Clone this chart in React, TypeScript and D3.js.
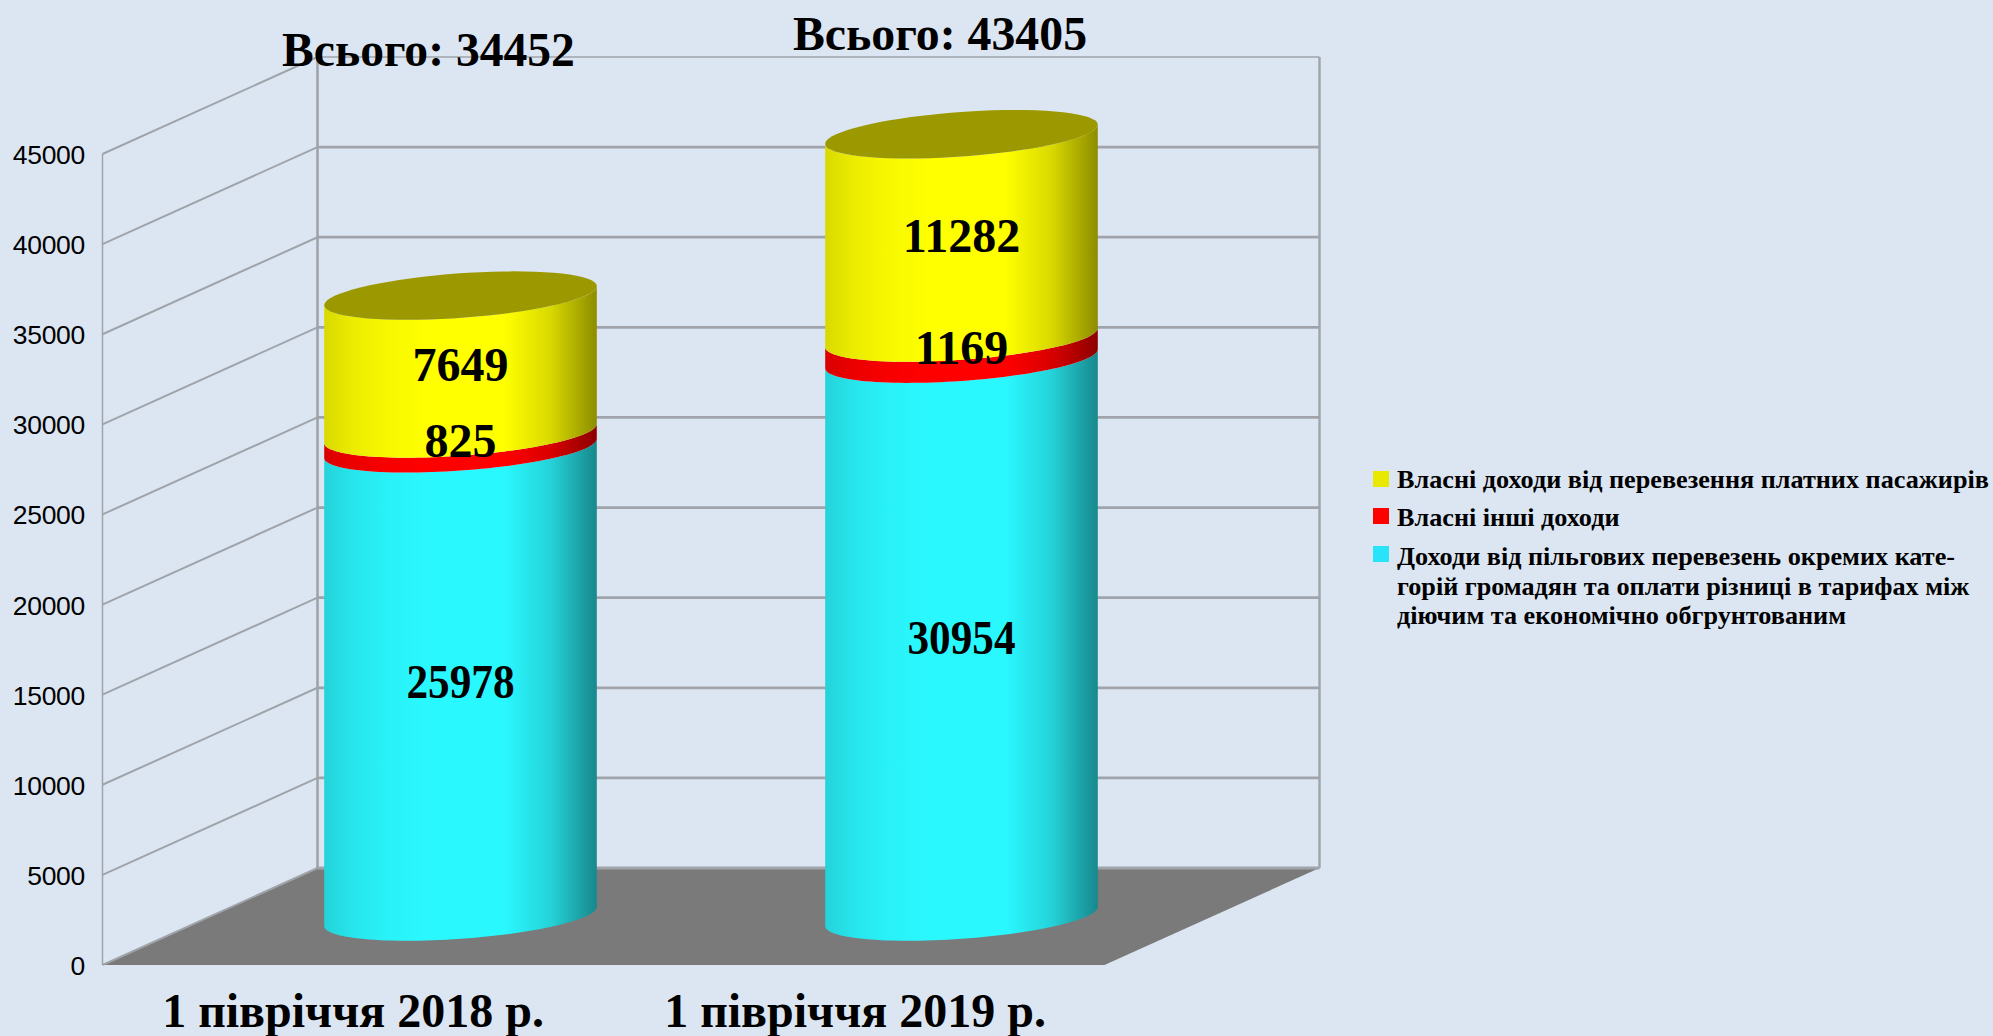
import * as d3 from 'd3';

const categories = ['1 півріччя 2018 р.', '1 півріччя 2019 р.'];
const seriesNames = ['Доходи від пільгових перевезень', 'Власні інші доходи', 'Власні доходи від перевезення платних пасажирів'];
const subsidised = [25978, 30954];
const otherIncome = [825, 1169];
const paidPassengers = [7649, 11282];
const totals = [34452, 43405];
const yTicks = [0, 5000, 10000, 15000, 20000, 25000, 30000, 35000, 40000, 45000];
const legendLines = [
  ['Власні доходи від перевезення платних пасажирів'],
  ['Власні інші доходи'],
  [
    'Доходи від пільгових перевезень окремих кате-',
    'горій громадян та оплати різниці в тарифах між',
    'діючим та економічно обгрунтованим',
  ],
];

const BG = '#dce6f2';
const GRID = '#a0a4aa';
const FLOOR = '#7a7a7a';
const SERIF = '"Liberation Serif", serif';
const SANS = '"Liberation Sans", sans-serif';

const sideColors = ['#2af8ff', '#ff0000', '#ffff00'];
const topColor = '#9c9900';
const legendColors = ['#e8e800', '#ff0000', '#29e3fb'];
const shadeStops: [number, number][] = [
  [0, 0.85],
  [0.1, 0.92],
  [0.22, 0.97],
  [0.38, 1],
  [0.66, 1],
  [0.83, 0.85],
  [1, 0.55],
];

const width = 1993;
const height = 1036;

// floor plane: front edge and how far the back wall is shifted
const depthX = 215;
const depthY = -97;
const x = d3.scaleBand<string>().domain(categories).range([102.5, 1104.5]);
const y = d3.scaleLinear().domain([0, 45000]).range([965, 154]);
const radiusX = x.bandwidth() / 4;
const radiusDepth = 0.25;

const shade = (color: string, k: number) => {
  const c = d3.rgb(color);
  return d3.rgb(c.r * k, c.g * k, c.b * k).formatHex();
};

const line = d3.line<[number, number]>();

// one rim of the cylinder, t in radians
const rimPoint = (cx: number, cy: number, t: number): [number, number] => [
  cx + radiusX * Math.cos(t) + radiusDepth * depthX * Math.sin(t),
  cy + radiusDepth * depthY * Math.sin(t),
];

// angle of the rightmost silhouette point
const tEdge = Math.atan2(radiusDepth * depthX, radiusX);

const frontArc = (cx: number, cy: number, reverse = false) => {
  const ts = d3.range(0, 61).map((i) => tEdge - (i / 60) * Math.PI);
  return (reverse ? ts.reverse() : ts).map((t) => rimPoint(cx, cy, t));
};

const sidePath = (cx: number, v0: number, v1: number) =>
  line([...frontArc(cx, y(v0) + depthY / 2), ...frontArc(cx, y(v1) + depthY / 2, true)]) + ' Z';

const topPath = (cx: number, v: number) =>
  line(d3.range(0, 73).map((i) => rimPoint(cx, y(v) + depthY / 2, (i / 72) * 2 * Math.PI))) + ' Z';

export default function App() {
  const stacks = categories.map((cat, i) => {
    const values = [subsidised[i], otherIncome[i], paidPassengers[i]];
    const tops = d3.cumsum(values);
    return { cat, i, values, tops: Array.from(tops), cx: (x(cat) || 0) + x.bandwidth() / 2 + depthX / 2 };
  });
  const [x0, x1] = x.range();

  return (
    <svg
      width={width}
      height={height}
      style={{ position: 'absolute', left: 0, top: 0, display: 'block', background: BG }}
    >
      <defs>
        {seriesNames.map((name, s) => (
          <linearGradient key={name} id={`side-${s}`} x1="0" x2="1" y1="0" y2="0">
            {shadeStops.map(([o, k]) => (
              <stop key={o} offset={o} stopColor={shade(sideColors[s], k)} />
            ))}
          </linearGradient>
        ))}
      </defs>

      {/* floor */}
      <path
        d={
          line([
            [x0, y(0)],
            [x0 + depthX, y(0) + depthY],
            [x1 + depthX, y(0) + depthY],
            [x1, y(0)],
          ]) + ' Z'
        }
        fill={FLOOR}
      />

      {/* walls */}
      <line x1={x0} x2={x0} y1={y(45000)} y2={y(0)} stroke={GRID} strokeWidth={1.5} />
      <line x1={x0 + depthX} x2={x0 + depthX} y1={y(45000) + depthY} y2={y(0) + depthY} stroke={GRID} strokeWidth={2.6} />
      <line x1={x1 + depthX} x2={x1 + depthX} y1={y(45000) + depthY} y2={y(0) + depthY} stroke={GRID} strokeWidth={2.4} />
      {yTicks.map((t) => (
        <g key={t}>
          <line x1={x0} x2={x0 + depthX} y1={y(t)} y2={y(t) + depthY} stroke={GRID} strokeWidth={2} />
          <line
            x1={x0 + depthX}
            x2={x1 + depthX}
            y1={y(t) + depthY}
            y2={y(t) + depthY}
            stroke={GRID}
            strokeWidth={t === 45000 ? 1.5 : 2.8}
          />
          <text x={85} y={y(t) + 10} textAnchor="end" fontFamily={SANS} fontSize={26.5} letterSpacing={-0.3} fill="#000">
            {t}
          </text>
        </g>
      ))}

      {/* cylinders */}
      {stacks.map((d) => (
        <g key={d.cat}>
          {d.values.map((v, s) => (
            <path key={s} d={sidePath(d.cx, s === 0 ? 0 : d.tops[s - 1], d.tops[s])} fill={`url(#side-${s})`} />
          ))}
          <path d={topPath(d.cx, d.tops[2])} fill={topColor} />
        </g>
      ))}

      {/* value labels */}
      {stacks.map((d) =>
        d.values.map((v, s) => (
          <text
            key={`${d.cat}-${s}`}
            x={d.cx}
            y={y((s === 0 ? 0 : d.tops[s - 1]) + v / 2) + depthY / 2 + 16}
            textAnchor="middle"
            fontFamily={SERIF}
            fontWeight="bold"
            fontSize={48}
            fill="#000"
            {...(s === 0 ? { textLength: 108, lengthAdjust: 'spacingAndGlyphs' } : {})}
          >
            {v}
          </text>
        ))
      )}

      {/* totals */}
      <text x={428.5} y={66} textAnchor="middle" fontFamily={SERIF} fontWeight="bold" fontSize={47.6} fill="#000">
        Всього: {totals[0]}
      </text>
      <text x={940} y={50} textAnchor="middle" fontFamily={SERIF} fontWeight="bold" fontSize={47.8} fill="#000">
        Всього: {totals[1]}
      </text>

      {/* category labels */}
      {categories.map((c, i) => (
        <text
          key={c}
          x={i === 0 ? 353 : 855}
          y={1027}
          textAnchor="middle"
          fontFamily={SERIF}
          fontWeight="bold"
          fontSize={48}
          fill="#000"
        >
          {c}
        </text>
      ))}

      {/* legend */}
      {[471, 508, 546].map((top, i) => (
        <rect key={top} x={1373} y={top} width={16} height={16} fill={legendColors[i]} />
      ))}
      {[488, 526, 565].map((base, i) =>
        legendLines[i].map((txt, j) => (
          <text
            key={txt}
            x={1397}
            y={base + j * 29.5}
            fontFamily={SERIF}
            fontWeight="bold"
            fontSize={26.2}
            fill="#000"
          >
            {txt}
          </text>
        ))
      )}
    </svg>
  );
}
